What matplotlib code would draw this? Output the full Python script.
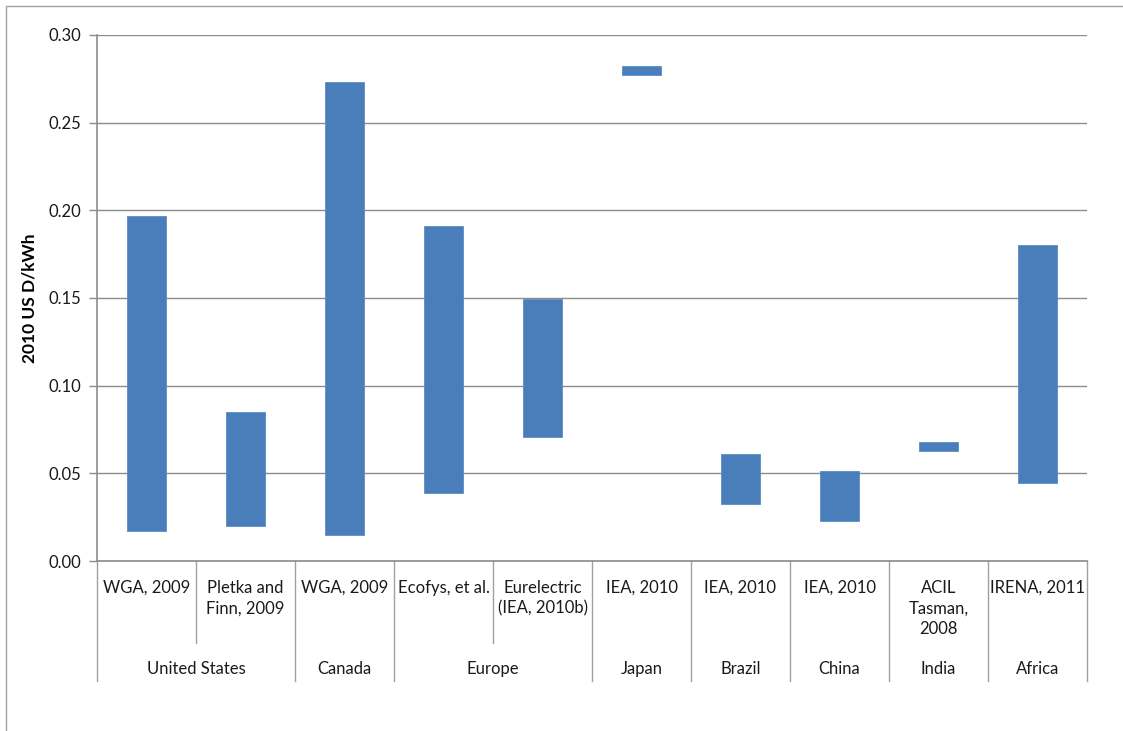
import numpy as np
import matplotlib.pyplot as plt
from matplotlib.ticker import FormatStrFormatter, MultipleLocator
from matplotlib.patches import Rectangle

plt.rcParams['font.family'] = ['Lato', 'DejaVu Sans']

# data (2010 US$/kWh)
sources = ['WGA, 2009', 'Pletka and\nFinn, 2009', 'WGA, 2009', 'Ecofys, et al.',
           'Eurelectric\n(IEA, 2010b)', 'IEA, 2010', 'IEA, 2010', 'IEA, 2010',
           'ACIL\nTasman,\n2008', 'IRENA, 2011']
regions = ['United States', 'Canada', 'Europe', 'Japan', 'Brazil', 'China', 'India', 'Africa']
region_size = [2, 1, 2, 1, 1, 1, 1, 1]
low = [0.017, 0.020, 0.015, 0.039, 0.071, 0.277, 0.0325, 0.023, 0.063, 0.0445]
high = [0.197, 0.085, 0.273, 0.191, 0.1495, 0.2825, 0.061, 0.0515, 0.068, 0.180]

W, H = 1123, 731
fig = plt.figure(figsize=(W / 100, H / 100), dpi=100)
ax_l, ax_r, ax_t, ax_b = 97, 1087, 35, 561
ax = fig.add_axes([ax_l / W, 1 - ax_b / H, (ax_r - ax_l) / W, (ax_b - ax_t) / H])

# outer chart border
fig.patches.append(Rectangle((6 / W, -0.1), 1.2, 1 - 6 / H + 0.1, transform=fig.transFigure,
                             fill=False, edgecolor='#a0a0a0', linewidth=1))

x = np.arange(len(sources))
ax.bar(x, np.array(high) - np.array(low), bottom=low, width=0.4,
       color='#4a7ebb', edgecolor='#5b8cc6', linewidth=0.6, zorder=3)

ax.set_xlim(-0.5, len(sources) - 0.5)
ax.set_ylim(0, 0.30)
ax.yaxis.set_major_locator(MultipleLocator(0.05))
ax.yaxis.set_major_formatter(FormatStrFormatter('%.2f'))
ax.grid(axis='y', color='#8c8c8c', linewidth=1, zorder=0)
ax.set_xticks([])
for s in ['top', 'right']:
    ax.spines[s].set_visible(False)
for s in ['left', 'bottom']:
    ax.spines[s].set_color('#8c8c8c')
    ax.spines[s].set_linewidth(1.2)
ax.tick_params(axis='y', colors='#8c8c8c', length=6, width=1, labelcolor='#1a1a1a',
               labelsize=12, pad=5)
ax.set_ylabel('2010 US D/kWh', fontsize=12.5, fontweight='bold', labelpad=8)

trans = ax.get_xaxis_transform()
h = ax_b - ax_t


def fy(py):
    return (ax_b - py) / h


# source labels
for i, s in enumerate(sources):
    ax.text(i, fy(580), s, transform=trans, ha='center', va='top', fontsize=12,
            linespacing=1.35, color='#1a1a1a')

# dividers and region labels
bounds = np.concatenate([[0], np.cumsum(region_size)])
for b in bounds:
    ax.plot([b - 0.5, b - 0.5], [0, fy(681)], transform=trans, color='#a0a0a0',
            linewidth=1, clip_on=False)
for j, n in enumerate(region_size):
    for k in range(1, n):
        xb = bounds[j] + k - 0.5
        ax.plot([xb, xb], [0, fy(643)], transform=trans, color='#a0a0a0',
                linewidth=1, clip_on=False)
    ax.text(bounds[j] + (n - 1) / 2, fy(669), regions[j], transform=trans,
            ha='center', va='center', fontsize=12, color='#1a1a1a')

fig.savefig('out.png', dpi=100)
